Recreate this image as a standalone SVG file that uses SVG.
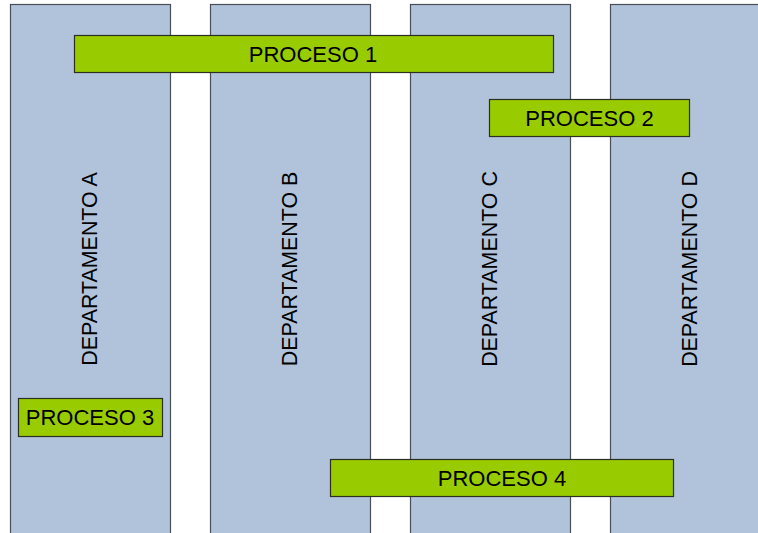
<svg xmlns="http://www.w3.org/2000/svg" width="758" height="533" viewBox="0 0 758 533">
<style>
.dept{fill:#B0C3DA;stroke:#4A4F57;stroke-width:1.2}
.proc{fill:#99CC00;stroke:#2B2F22;stroke-width:1.2}
.dt{font-family:"Liberation Sans",Arial,sans-serif;font-size:21.4px;fill:#000;text-anchor:middle}
.pt{font-family:"Liberation Sans",Arial,sans-serif;font-size:22px;fill:#000;text-anchor:middle}
</style>
<rect width="758" height="533" fill="#fff"/>
<g id="dept-a"><rect class="dept" x="10.5" y="4.5" width="160" height="540"/><text class="dt" transform="translate(96.5,269) rotate(-90)">DEPARTAMENTO A</text></g>
<g id="dept-b"><rect class="dept" x="210.5" y="4.5" width="160" height="540"/><text class="dt" transform="translate(296.5,269) rotate(-90)">DEPARTAMENTO B</text></g>
<g id="dept-c"><rect class="dept" x="410.5" y="4.5" width="160" height="540"/><text class="dt" transform="translate(496.5,269) rotate(-90)">DEPARTAMENTO C</text></g>
<g id="dept-d"><rect class="dept" x="610.5" y="4.5" width="160" height="540"/><text class="dt" transform="translate(696.5,269) rotate(-90)">DEPARTAMENTO D</text></g>
<g id="connectors"></g>
<g id="proceso-1"><rect class="proc" x="74.5" y="35.5" width="479" height="37"/><text class="pt" x="313" y="61.5">PROCESO 1</text></g>
<g id="proceso-2"><rect class="proc" x="489.5" y="99.5" width="200" height="37"/><text class="pt" x="589.5" y="125.5">PROCESO 2</text></g>
<g id="proceso-3"><rect class="proc" x="18.5" y="398.5" width="144" height="38"/><text class="pt" x="90" y="425">PROCESO 3</text></g>
<g id="proceso-4"><rect class="proc" x="330.5" y="459.5" width="343" height="37"/><text class="pt" x="502" y="485.5">PROCESO 4</text></g>
</svg>
